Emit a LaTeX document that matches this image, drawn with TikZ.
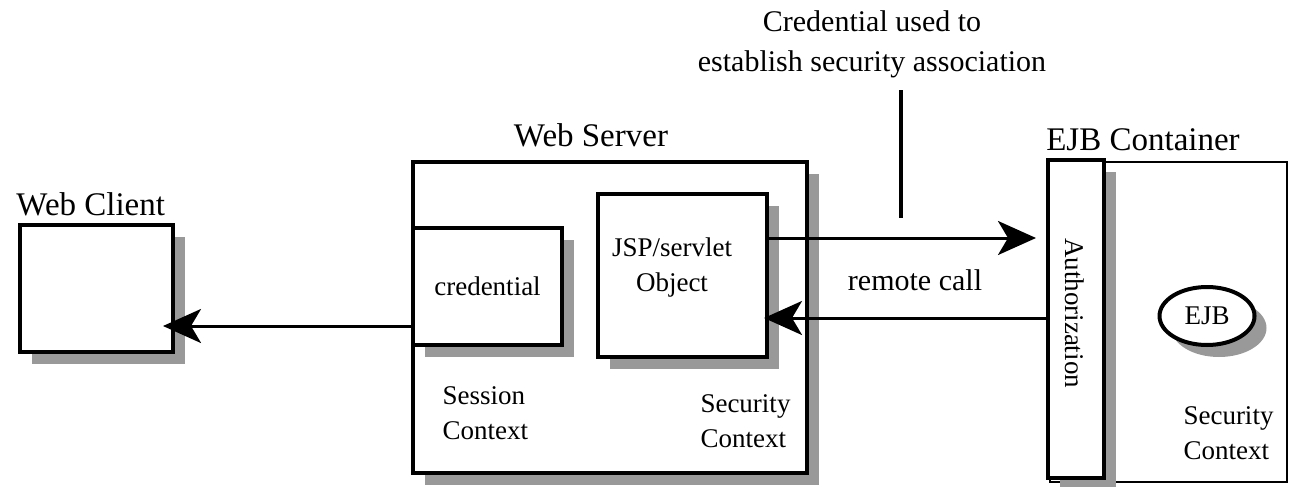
\documentclass[tikz,border=0pt]{standalone}
\usepackage{fontspec}
\setmainfont{Liberation Serif}
\usepackage{tikz}
\usetikzlibrary{arrows.meta,shapes.geometric,shadows}

\newcommand{\labfont}{\fontsize{16.5}{20}\selectfont}
\newcommand{\boxfont}{\fontsize{13.5}{17.5}\selectfont}
\newcommand{\midfont}{\fontsize{15}{20}\selectfont}

\begin{document}
\begin{tikzpicture}[x=0.5pt,y=-0.5pt,>={Stealth[length=19pt,width=17pt,inset=5pt]},
                    line width=1.5pt]
  \tikzstyle{box}=[draw,line width=2pt,fill=white,inner sep=0pt,
                   drop shadow={shadow xshift=6pt,shadow yshift=-6pt,fill=black!40,opacity=1}]
  \tikzstyle{txt}=[inner sep=0pt,font=\boxfont,align=left]
  \tikzstyle{lab}=[inner sep=0pt,font=\labfont,anchor=base]
  \useasboundingbox (0,0) rectangle (1290,487);

  \node[box,minimum width=76.5pt,minimum height=63.5pt]  (client) at (96.5,288.5) {};
  \node[box,minimum width=197pt,minimum height=155.5pt]  (server) at (610,317.5)  {};
  \node[box,minimum width=74.5pt,minimum height=58.5pt,font=\boxfont] (cred) at (487.5,286.5) {credential};
  \node[box,minimum width=84.5pt,minimum height=81.5pt]  (jsp)    at (682.5,275.5) {};

  % container first, Authorization hides its left edge
  \node[draw,line width=1.2pt,inner sep=0pt,minimum width=118.5pt,minimum height=160pt] (container) at (1168.5,322) {};
  \node[box,minimum width=28pt,minimum height=159pt]    (auth)   at (1076,319) {};
  \node[box,ellipse,minimum width=47.5pt,minimum height=29pt,font=\boxfont] (ejb) at (1207,316) {EJB};

  \node[lab,anchor=base west] (clientlab)    at (15,215)   {Web Client};
  \node[lab]                  (serverlab)    at (591,146)  {Web Server};
  \node[lab]                  (containerlab) at (1143,150) {EJB Container};

  \node[txt,align=center] (jsptext)  at (672,268)  {JSP/servlet\\Object};
  \node[txt,anchor=west]  (session)  at (441,413)  {Session\\Context};
  \node[txt,anchor=west]  (wsec)     at (699,421)  {Security\\Context};
  \node[txt,anchor=west]  (esec)     at (1182,433) {Security\\Context};
  \node[txt,rotate=-90]   (authtext) at (1075,313) {Authorization};

  \node[inner sep=0pt,font=\midfont] (remote) at (915,280) {remote call};
  \node[inner sep=0pt,font=\midfont,align=center] (note) at (872,44)
       {Credential used to\\establish security association};

  \coordinate (notetop) at (901,90);
  \coordinate (notebot) at (901,218);
  \draw[line width=2pt] (notetop) -- (notebot);

  \draw[->,shorten >=-6pt]  ([yshift=-4.25pt]server.west) -- ([yshift=-4.25pt]server.west -| client.east);
  \draw[->,shorten >=5pt]   ([yshift=18.75pt]jsp.east) -- ([yshift=18.75pt]jsp.east -| auth.west);
  \draw[->,shorten >=-2.5pt] ([yshift=0.5pt]auth.west) -- ([yshift=0.5pt]auth.west -| jsp.east);
\end{tikzpicture}
\end{document}
